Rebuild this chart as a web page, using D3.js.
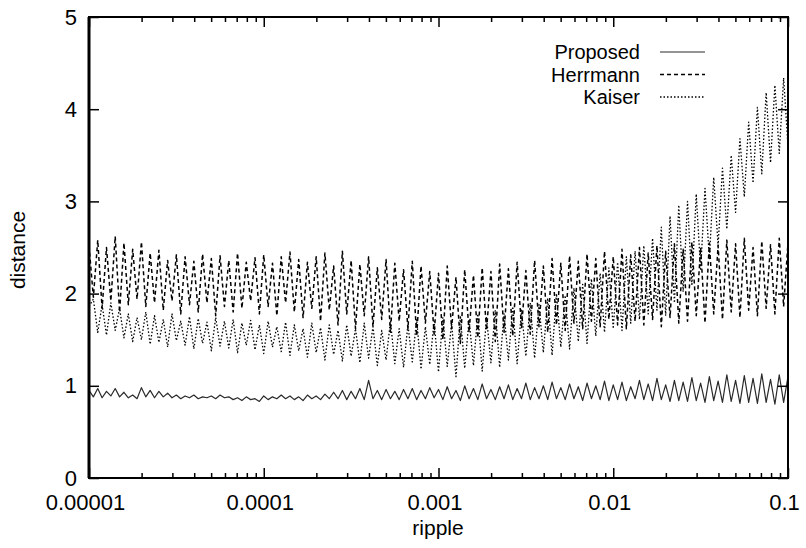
<!DOCTYPE html>
<html>
<head>
<meta charset="utf-8">
<script src="https://cdn.jsdelivr.net/npm/d3@7"></script>
<style>
  html, body { margin: 0; padding: 0; background: #fff; }
  svg { display: block; }
  text { font-family: "Liberation Sans", Arial, Helvetica, sans-serif; fill: #000; }
</style>
</head>
<body>
<svg id="chart" width="806" height="548"></svg>
<script>
// Sampled ripple values, as powers of ten
const rippleExp = [
  -5.000,-4.975,-4.950,-4.925,-4.900,-4.875,-4.850,-4.825,
  -4.800,-4.775,-4.750,-4.725,-4.700,-4.675,-4.650,-4.625,
  -4.600,-4.575,-4.550,-4.525,-4.500,-4.475,-4.450,-4.425,
  -4.400,-4.375,-4.350,-4.325,-4.300,-4.275,-4.250,-4.225,
  -4.200,-4.175,-4.150,-4.125,-4.100,-4.075,-4.050,-4.025,
  -4.000,-3.975,-3.950,-3.925,-3.900,-3.875,-3.850,-3.825,
  -3.800,-3.775,-3.750,-3.725,-3.700,-3.675,-3.650,-3.625,
  -3.600,-3.575,-3.550,-3.525,-3.500,-3.475,-3.450,-3.425,
  -3.400,-3.375,-3.350,-3.325,-3.300,-3.275,-3.250,-3.225,
  -3.200,-3.175,-3.150,-3.125,-3.100,-3.075,-3.050,-3.025,
  -3.000,-2.975,-2.950,-2.925,-2.900,-2.875,-2.850,-2.825,
  -2.800,-2.775,-2.750,-2.725,-2.700,-2.675,-2.650,-2.625,
  -2.600,-2.575,-2.550,-2.525,-2.500,-2.475,-2.450,-2.425,
  -2.400,-2.375,-2.350,-2.325,-2.300,-2.275,-2.250,-2.225,
  -2.200,-2.175,-2.150,-2.125,-2.100,-2.075,-2.050,-2.025,
  -2.000,-1.975,-1.950,-1.925,-1.900,-1.875,-1.850,-1.825,
  -1.800,-1.775,-1.750,-1.725,-1.700,-1.675,-1.650,-1.625,
  -1.600,-1.575,-1.550,-1.525,-1.500,-1.475,-1.450,-1.425,
  -1.400,-1.375,-1.350,-1.325,-1.300,-1.275,-1.250,-1.225,
  -1.200,-1.175,-1.150,-1.125,-1.100,-1.075,-1.050,-1.025,
  -1.000
];

const proposed = [
  0.95,0.88,0.97,0.87,0.94,0.89,0.97,0.88,
  0.93,0.87,0.90,0.86,0.98,0.88,0.95,0.87,
  0.94,0.88,0.92,0.87,0.90,0.86,0.89,0.87,
  0.90,0.86,0.88,0.87,0.89,0.86,0.90,0.87,
  0.88,0.85,0.87,0.84,0.88,0.85,0.86,0.83,
  0.89,0.85,0.88,0.86,0.90,0.86,0.89,0.85,
  0.88,0.84,0.90,0.86,0.89,0.85,0.91,0.86,
  0.93,0.86,0.95,0.85,0.94,0.86,0.97,0.85,
  1.06,0.86,0.95,0.85,0.96,0.86,0.94,0.85,
  0.96,0.86,0.97,0.85,0.95,0.86,0.98,0.87,
  0.96,0.85,0.99,0.86,0.95,0.84,1.00,0.86,
  0.97,0.85,1.02,0.86,0.96,0.85,0.99,0.86,
  1.01,0.85,0.97,0.86,1.03,0.85,0.98,0.86,
  1.00,0.85,1.04,0.86,0.98,0.85,1.02,0.86,
  0.99,0.84,1.03,0.86,1.00,0.85,1.05,0.84,
  1.01,0.85,1.04,0.84,0.99,0.86,1.06,0.85,
  1.02,0.84,1.08,0.85,1.01,0.83,1.06,0.84,
  1.04,0.83,1.09,0.84,1.03,0.82,1.10,0.84,
  1.05,0.82,1.12,0.83,1.06,0.81,1.11,0.82,
  1.08,0.81,1.13,0.82,1.07,0.80,1.12,0.82,
  1.10
];

const herrmann = [
  2.52,1.96,2.58,1.84,2.50,1.92,2.62,1.80,
  2.55,1.88,2.48,1.94,2.56,1.86,2.44,1.90,
  2.47,1.82,2.36,1.92,2.42,1.78,2.40,1.88,
  2.35,1.80,2.43,1.90,2.38,1.76,2.41,1.86,
  2.36,1.80,2.44,1.84,2.34,1.92,2.39,1.78,
  2.42,1.86,2.33,1.76,2.40,1.90,2.45,1.80,
  2.37,1.74,2.34,1.84,2.40,1.70,2.44,1.82,
  2.30,1.66,2.46,1.78,2.36,1.62,2.32,1.76,
  2.40,1.64,2.28,1.72,2.37,1.58,2.33,1.70,
  2.26,1.62,2.35,1.54,2.30,1.68,2.24,1.56,
  2.22,1.50,2.30,1.62,2.18,1.46,2.26,1.58,
  2.20,1.52,2.28,1.60,2.24,1.48,2.32,1.58,
  2.27,1.54,2.34,1.62,2.25,1.56,2.36,1.64,
  2.30,1.58,2.38,1.66,2.33,1.60,2.41,1.68,
  2.35,1.62,2.43,1.70,2.38,1.64,2.46,1.72,
  2.40,1.66,2.48,1.62,2.42,1.70,2.50,1.66,
  2.44,1.72,2.52,1.64,2.46,1.74,2.54,1.68,
  2.48,1.70,2.56,1.76,2.50,1.68,2.55,1.78,
  2.52,1.72,2.58,1.80,2.54,1.74,2.60,1.82,
  2.50,1.76,2.57,1.84,2.53,1.78,2.60,1.86,
  2.55
];

const kaiser = [
  1.86,1.94,1.58,1.88,1.55,1.90,1.60,1.84,
  1.52,1.78,1.48,1.74,1.50,1.80,1.45,1.76,
  1.47,1.72,1.42,1.78,1.49,1.70,1.44,1.75,
  1.40,1.73,1.46,1.69,1.38,1.74,1.43,1.70,
  1.41,1.72,1.36,1.68,1.44,1.71,1.39,1.66,
  1.35,1.70,1.42,1.64,1.37,1.69,1.33,1.66,
  1.38,1.62,1.31,1.68,1.36,1.63,1.28,1.66,
  1.34,1.60,1.27,1.66,1.32,1.62,1.25,1.68,
  1.30,1.64,1.22,1.60,1.28,1.70,1.24,1.62,
  1.20,1.66,1.26,1.72,1.18,1.64,1.23,1.70,
  1.15,1.74,1.21,1.68,1.10,1.76,1.19,1.72,
  1.22,1.78,1.16,1.74,1.25,1.82,1.20,1.78,
  1.28,1.86,1.24,1.82,1.32,1.90,1.30,1.88,
  1.36,1.95,1.33,2.00,1.42,1.98,1.40,2.06,
  1.48,2.10,1.46,2.16,1.54,2.22,1.58,2.28,
  1.62,2.34,1.60,2.40,1.68,2.46,1.72,2.52,
  1.78,2.60,1.82,2.72,1.76,2.84,1.90,2.96,
  2.02,3.00,2.10,3.08,2.25,3.14,2.38,3.26,
  2.52,3.36,2.70,3.50,2.88,3.68,3.05,3.86,
  3.20,4.02,3.30,4.18,3.42,4.26,3.52,4.34,
  3.60
];

const seriesNames = ["Proposed", "Herrmann", "Kaiser"];
const xTickValues = [1e-5, 1e-4, 1e-3, 1e-2, 1e-1];
const xTickLabels = ["0.00001", "0.0001", "0.001", "0.01", "0.1"];
const yTickValues = [0, 1, 2, 3, 4, 5];

// ---- layout ----
const plot = { left: 89, right: 788, top: 17, bottom: 478 };
const svg = d3.select("#chart");

const x = d3.scaleLog().domain([1e-5, 0.1]).range([plot.left, plot.right]);
const y = d3.scaleLinear().domain([0, 5]).range([plot.bottom, plot.top]);

const styles = {
  Proposed: { data: proposed, width: 1.2, dash: null, color: "#2a2a2a" },
  Herrmann: { data: herrmann, width: 1.5, dash: "4,3", color: "#000" },
  Kaiser:   { data: kaiser,   width: 1.3, dash: "1.5,2", color: "#000" }
};

svg.append("clipPath").attr("id", "plotClip")
  .append("rect")
  .attr("x", plot.left).attr("y", plot.top)
  .attr("width", plot.right - plot.left).attr("height", plot.bottom - plot.top);

const line = d3.line()
  .x((d, i) => x(Math.pow(10, rippleExp[i])))
  .y(d => y(d));

const lines = svg.append("g").attr("clip-path", "url(#plotClip)");
["Kaiser", "Herrmann", "Proposed"].forEach(name => {
  const s = styles[name];
  lines.append("path")
    .datum(s.data)
    .attr("d", line)
    .attr("fill", "none")
    .attr("stroke", s.color)
    .attr("stroke-width", s.width)
    .attr("stroke-dasharray", s.dash)
    .attr("stroke-linejoin", "round");
});

// ---- axes (ticks point inward, mirrored on top and right) ----
const minorX = x.ticks().filter(v => !xTickValues.some(t => Math.abs(t - v) / t < 1e-6));
const labelOf = v => xTickLabels[xTickValues.findIndex(t => Math.abs(t - v) / t < 1e-6)];

const bottomAxis = svg.append("g")
  .attr("transform", `translate(0,${plot.bottom})`)
  .call(d3.axisBottom(x).tickValues(xTickValues).tickFormat(labelOf)
    .tickSize(-10).tickPadding(16));
svg.append("g")
  .attr("transform", `translate(0,${plot.bottom})`)
  .call(d3.axisBottom(x).tickValues(minorX).tickFormat("").tickSize(-5));
svg.append("g")
  .attr("transform", `translate(0,${plot.top})`)
  .call(d3.axisTop(x).tickValues(xTickValues).tickFormat("").tickSize(-10));
svg.append("g")
  .attr("transform", `translate(0,${plot.top})`)
  .call(d3.axisTop(x).tickValues(minorX).tickFormat("").tickSize(-5));

svg.append("g")
  .attr("transform", `translate(${plot.left},0)`)
  .call(d3.axisLeft(y).tickValues(yTickValues).tickFormat(d3.format("d"))
    .tickSize(-10).tickPadding(12));
svg.append("g")
  .attr("transform", `translate(${plot.right},0)`)
  .call(d3.axisRight(y).tickValues(yTickValues).tickFormat("").tickSize(-10));

svg.selectAll(".domain").remove();
svg.selectAll(".tick line").attr("stroke", "#000").attr("stroke-width", 1.5);
svg.selectAll(".tick text").attr("font-size", 22).attr("fill", "#000")
  .style("font-family", "'Liberation Sans', Arial, sans-serif");
bottomAxis.selectAll(".tick text").attr("dx", -4);

// frame
svg.append("rect")
  .attr("x", plot.left).attr("y", plot.top)
  .attr("width", plot.right - plot.left).attr("height", plot.bottom - plot.top)
  .attr("fill", "none").attr("stroke", "#000").attr("stroke-width", 2);
svg.append("line")
  .attr("x1", plot.left).attr("x2", plot.left)
  .attr("y1", plot.top).attr("y2", plot.bottom)
  .attr("stroke", "#000").attr("stroke-width", 3);

// ---- axis titles ----
svg.append("text")
  .attr("x", 438).attr("y", 535)
  .attr("text-anchor", "middle").attr("font-size", 21)
  .text("ripple");
svg.append("text")
  .attr("transform", "translate(25,250) rotate(-90)")
  .attr("text-anchor", "middle").attr("font-size", 21)
  .text("distance");

// ---- legend ----
const legend = svg.append("g");
seriesNames.forEach((name, i) => {
  const s = styles[name];
  const base = 59 + i * 22.5;
  legend.append("text")
    .attr("x", 640).attr("y", base)
    .attr("text-anchor", "end").attr("font-size", 20)
    .text(name);
  legend.append("line")
    .attr("x1", 660).attr("x2", 705)
    .attr("y1", base - 7).attr("y2", base - 7)
    .attr("stroke", s.color).attr("stroke-width", s.width)
    .attr("stroke-dasharray", s.dash);
});
</script>
</body>
</html>
